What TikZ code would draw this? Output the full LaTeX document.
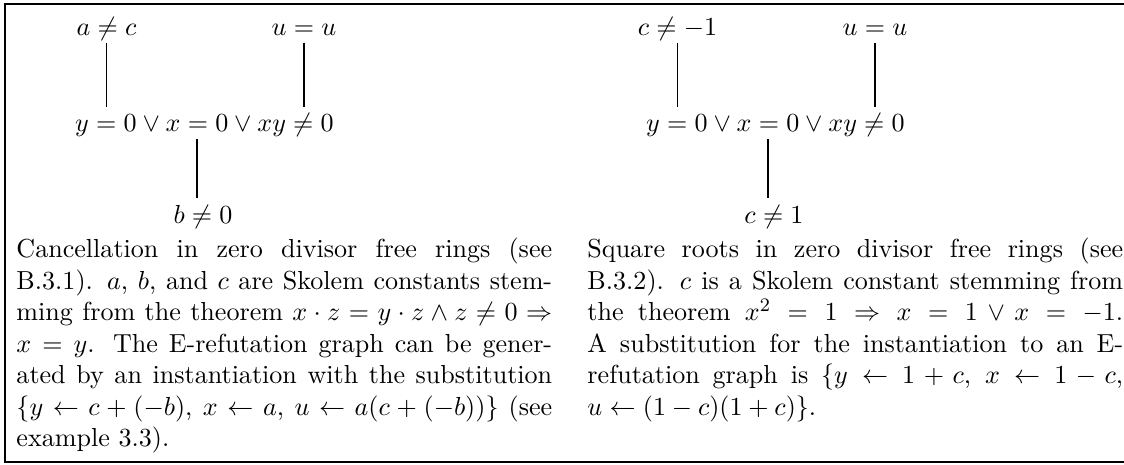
\documentclass[tikz,border=0pt]{standalone}
\usepackage{amsmath,amssymb}
\usepackage{tikz}
\usetikzlibrary{positioning}
\tikzset{
  lit/.style={font=\fontsize{10.95}{13.25}\selectfont, inner sep=0.3pt,
              text height=10pt, text depth=2.5pt, anchor=base},
  link/.style={line width=0.8pt},
  boxline/.style={line width=0.75pt},
  capt/.style={anchor=north west, inner sep=0pt, text width=225pt, align=justify,
               font=\fontsize{10.95}{13.25}\selectfont},
}

\begin{document}
\begin{tikzpicture}[x=0.42pt, y=-0.42pt]
 \useasboundingbox (0,0) rectangle (1124,464);
 \draw[boxline] (1124,4) -- (5,4) -- (5,462) -- (1124,462);
 \foreach \p/\dx/\topl/\lowl/\txt in {%
   1/0/{$a \neq c$}/{$b \neq 0$}/{Cancellation in zero divisor free rings (see\linebreak
     B.3.1). $a$, $b$, and $c$ are Skolem constants stem-\linebreak
     ming from the theorem $x \cdot z = y \cdot z \wedge z \neq 0 \Rightarrow$\linebreak
     $x = y$. The E-refutation graph can be gener-\linebreak
     ated by an instantiation with the substitution\linebreak
     $\{y \leftarrow c + (-b)$, $x \leftarrow a$, $u \leftarrow a(c + (-b))\}$ (see\linebreak
     example 3.3).},
   2/571/{$c \neq -1$}/{$c \neq 1$}/{Square roots in zero divisor free rings (see\linebreak
     B.3.2). $c$ is a Skolem constant stemming from\linebreak
     the theorem $x^2 = 1 \Rightarrow x = 1 \vee x = -1$.\linebreak
     A substitution for the instantiation to an E-\linebreak
     refutation graph is $\{y \leftarrow 1 + c$, $x \leftarrow 1 - c$,\linebreak
     $u \leftarrow (1 - c)(1 + c)\}$.}}
 {
  \begin{scope}[shift={(\dx,0)}]
    \node[lit] (top\p) at (106.5,35.5) {\topl};
    \node[lit] (uu\p) at (304,35.5) {$u = u$};
    \node[lit] (mid\p) at (204.5,132) {$y = 0 \vee x = 0 \vee xy \neq 0$};
    \node[lit] (low\p) at (203,223) {\lowl};
    \draw[link] (top\p.south) -- (top\p.south |- mid\p.north);
    \draw[link] (uu\p.south) -- (uu\p.south |- mid\p.north);
    \draw[link] ([xshift=-2.5pt]low\p.north |- mid\p.south) -- ([xshift=-2.5pt]low\p.north);
    \node[capt] (cap\p) at (16,237.5) {\txt};
  \end{scope}
 }
\end{tikzpicture}
\end{document}
